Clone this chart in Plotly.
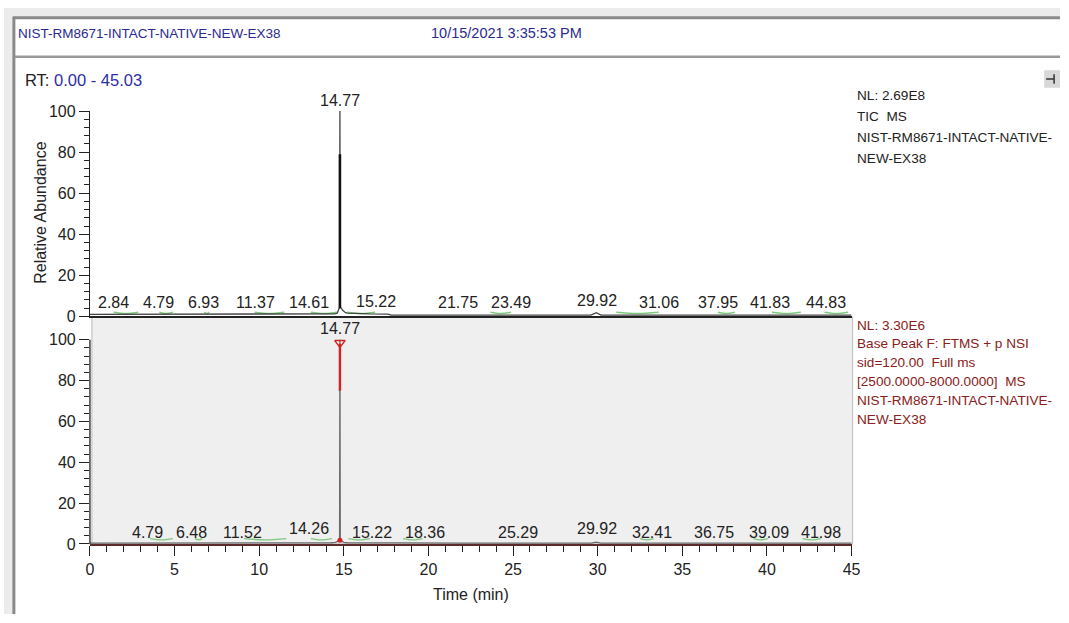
import plotly.graph_objects as go

# ---------------- data ----------------
tic_time = [0.0, 1.5, 2.84, 4.0, 4.79, 6.0, 6.93, 9.0, 11.37, 13.0, 14.45, 14.61, 14.70, 14.75, 14.77,
            14.79, 14.84, 14.95, 15.10, 15.22, 16.5, 17.6, 17.8, 21.75, 23.49, 29.6, 29.92, 30.2, 31.06,
            37.95, 41.83, 44.83, 45.0]
tic_abund = [1.0, 1.0, 1.2, 1.0, 1.1, 1.0, 1.1, 1.0, 1.1, 1.0, 1.2, 1.5, 3.5, 4.5, 100.0,
             4.5, 4.0, 2.8, 1.8, 1.6, 1.2, 1.1, 0.6, 0.6, 0.6, 0.6, 1.8, 0.6, 0.6,
             0.6, 0.6, 0.6, 0.6]

bp_time = [0.0, 3.0, 4.79, 6.48, 9.0, 11.52, 13.5, 14.26, 14.5, 14.70, 14.75, 14.77, 14.79, 14.84,
           15.0, 15.22, 16.0, 18.36, 22.0, 25.29, 29.6, 29.92, 30.2, 32.41, 36.75, 39.09, 41.98, 45.0]
bp_abund = [0.4, 0.4, 0.5, 0.5, 0.4, 0.5, 0.4, 0.6, 0.8, 1.5, 2.5, 100.0, 2.5, 1.5,
            0.8, 0.6, 0.5, 0.5, 0.4, 0.4, 0.4, 0.9, 0.4, 0.4, 0.4, 0.4, 0.4, 0.4]

apex_time = 14.77
tic_dark_segment = [4.0, 79.0]
bp_red_segment = [75.0, 98.0]

tic_labels = ["2.84", "4.79", "6.93", "11.37", "14.61", "15.22", "21.75", "23.49", "29.92",
              "31.06", "37.95", "41.83", "44.83"]
tic_label_pos = [1.40, 4.08, 6.70, 9.79, 12.94, 16.9, 21.74, 24.9, 29.95, 33.6, 37.1, 40.2, 43.5]
tic_label_lvl = [6.6, 6.6, 6.6, 6.6, 6.6, 7.4, 6.6, 6.6, 7.6, 6.6, 6.6, 6.6, 6.6]

bp_labels = ["4.79", "6.48", "11.52", "14.26", "15.22", "18.36", "25.29", "29.92", "32.41",
             "36.75", "39.09", "41.98"]
bp_label_pos = [3.38, 6.0, 9.03, 12.94, 16.67, 19.8, 25.3, 29.95, 33.2, 36.9, 40.1, 43.2]
bp_label_lvl = [5.7, 5.7, 5.7, 7.6, 5.7, 5.7, 5.7, 7.6, 5.7, 5.7, 5.7, 5.7]

tic_peak_bounds = [(1.40, 2.86), (4.1, 4.9), (6.76, 7.05), (9.73, 11.48), (13.05, 14.63),
                   (15.2, 16.85), (23.66, 24.88), (31.1, 33.6), (37.1, 38.1), (40.3, 42.0),
                   (43.4, 44.8)]
bp_peak_bounds = [(3.55, 4.9), (6.2, 6.64), (9.1, 11.6), (13.05, 14.3), (15.27, 16.55),
                  (18.5, 19.65), (32.5, 33.3), (39.2, 40.05), (42.1, 43.2)]

x_ticks = [0, 5, 10, 15, 20, 25, 30, 35, 40, 45]
y_ticks = [0, 20, 40, 60, 80, 100]

top_info = ["NL: 2.69E8", "TIC  MS", "NIST-RM8671-INTACT-NATIVE-", "NEW-EX38"]
bot_info = ["NL: 3.30E6", "Base Peak F: FTMS + p NSI", "sid=120.00  Full ms",
            "[2500.0000-8000.0000]  MS", "NIST-RM8671-INTACT-NATIVE-", "NEW-EX38"]
header_name = "NIST-RM8671-INTACT-NATIVE-NEW-EX38"
header_date = "10/15/2021 3:35:53 PM"

# ---------------- layout helpers ----------------
W, H = 1069, 623
FONT = "Liberation Sans, Arial, sans-serif"


def px(x):
    return x / W


def py(y):
    return 1 - y / H


fig = go.Figure()

# green integration marks
def seg_xy(bounds, lvl):
    xs, ys = [], []
    for a, b in bounds:
        xs += [a, (a + b) / 2, b, None]
        ys += [lvl, lvl - 0.6, lvl, None]
    return xs, ys

gx, gy = seg_xy(tic_peak_bounds, 2.0)
fig.add_trace(go.Scatter(x=gx, y=gy, mode="lines", line=dict(color="#7ec87e", width=1.4, shape="spline"),
                         xaxis="x", yaxis="y", hoverinfo="skip", showlegend=False))
gx, gy = seg_xy(bp_peak_bounds, 2.6)
fig.add_trace(go.Scatter(x=gx, y=gy, mode="lines", line=dict(color="#7ec87e", width=1.4, shape="spline"),
                         xaxis="x2", yaxis="y2", hoverinfo="skip", showlegend=False))

# TIC trace
fig.add_trace(go.Scatter(x=tic_time, y=tic_abund, mode="lines", line=dict(color="#444444", width=1.3),
                         xaxis="x", yaxis="y", showlegend=False))
fig.add_trace(go.Scatter(x=[apex_time, apex_time], y=tic_dark_segment, mode="lines",
                         line=dict(color="#111111", width=2.6), xaxis="x", yaxis="y", showlegend=False))

# Base peak trace
fig.add_trace(go.Scatter(x=bp_time, y=bp_abund, mode="lines", line=dict(color="#6a6a6a", width=1.3),
                         xaxis="x2", yaxis="y2", showlegend=False))
fig.add_trace(go.Scatter(x=[apex_time, apex_time], y=bp_red_segment, mode="lines",
                         line=dict(color="#d42020", width=2.4), xaxis="x2", yaxis="y2", showlegend=False))
fig.add_trace(go.Scatter(x=[apex_time], y=[98.5], mode="markers",
                         marker=dict(symbol="triangle-down-open", color="#d42020", size=9, line=dict(width=1.5)),
                         xaxis="x2", yaxis="y2", showlegend=False, cliponaxis=False))
fig.add_trace(go.Scatter(x=[apex_time], y=[1.8], mode="markers",
                         marker=dict(symbol="circle", color="#d42020", size=5),
                         xaxis="x2", yaxis="y2", showlegend=False, cliponaxis=False))

x_dom = [px(87), px(858)]
axis_font = dict(family=FONT, size=16, color="#222222")

fig.update_layout(
    width=W, height=H, margin=dict(l=0, r=0, t=0, b=0),
    paper_bgcolor="white", plot_bgcolor="rgba(0,0,0,0)",
    showlegend=False,
    xaxis=dict(domain=x_dom, range=[0, 45], anchor="y", showticklabels=False, ticks="",
               showgrid=False, zeroline=False, showline=True, linecolor="#222222", linewidth=1.6),
    yaxis=dict(domain=[py(317), py(106)], range=[0, 100], anchor="x", tickvals=y_ticks,
               ticks="outside", ticklen=10, tickwidth=1.3, tickcolor="#222222",
               minor=dict(tickvals=list(range(0, 101, 4)), ticks="outside", ticklen=5, tickcolor="#222222",
                          showgrid=False),
               showgrid=False, zeroline=False, showline=True, linecolor="#222222", linewidth=1.3,
               tickfont=axis_font),
    xaxis2=dict(domain=x_dom, range=[0, 45], anchor="y2", tickvals=x_ticks,
                ticks="outside", ticklen=10, tickwidth=1.3, tickcolor="#222222",
                minor=dict(dtick=1, ticks="outside", ticklen=6, tickcolor="#222222", showgrid=False),
                showgrid=False, zeroline=False, showline=True, linecolor="#5b2a2a", linewidth=2,
                tickfont=axis_font),
    yaxis2=dict(domain=[py(551), py(318)], range=[0, 111], anchor="x2", tickvals=y_ticks,
                ticks="outside", ticklen=10, tickwidth=1.3, tickcolor="#222222",
                minor=dict(tickvals=list(range(0, 101, 4)), ticks="outside", ticklen=5, tickcolor="#222222",
                           showgrid=False),
                showgrid=False, zeroline=False, showline=False, tickfont=axis_font),
)

shapes = []
# window chrome
shapes.append(dict(type="rect", xref="paper", yref="paper", x0=0, x1=1, y0=py(9), y1=1,
                   fillcolor="#ececec", line=dict(width=0), layer="below"))
shapes.append(dict(type="rect", xref="paper", yref="paper", x0=0, x1=px(9), y0=0, y1=1,
                   fillcolor="#ececec", line=dict(width=0), layer="below"))
shapes.append(dict(type="line", xref="paper", yref="paper", x0=px(9), x1=1, y0=py(10), y1=py(10),
                   line=dict(color="#8a8a8a", width=3)))
shapes.append(dict(type="line", xref="paper", yref="paper", x0=px(10), x1=px(10), y0=0, y1=py(9),
                   line=dict(color="#8a8a8a", width=3)))
shapes.append(dict(type="line", xref="paper", yref="paper", x0=px(11), x1=1, y0=py(50), y1=py(50),
                   line=dict(color="#9a9a9a", width=2.5)))
# gray panel behind base peak plot
shapes.append(dict(type="rect", xref="paper", yref="paper", x0=px(89), x1=px(859), y0=py(551), y1=py(318),
                   fillcolor="#efefef", line=dict(color="#c4c4c4", width=1.2), layer="below"))
# left axis line of bottom plot (0..100)
shapes.append(dict(type="line", xref="x2 domain", yref="y2", x0=0, x1=0, y0=0, y1=100,
                   line=dict(color="#222222", width=1.3)))
# small toolbar icon top-right
shapes.append(dict(type="rect", xref="paper", yref="paper", x0=px(1053), x1=1, y0=py(82), y1=py(64),
                   fillcolor="#d8d8d8", line=dict(width=0)))
shapes.append(dict(type="line", xref="paper", yref="paper", x0=px(1055), x1=px(1063), y0=py(73), y1=py(73),
                   line=dict(color="#333333", width=1.5)))
shapes.append(dict(type="line", xref="paper", yref="paper", x0=px(1063), x1=px(1063), y0=py(78), y1=py(68),
                   line=dict(color="#333333", width=1.5)))
fig.update_layout(shapes=shapes)

ann = []
lab_font = dict(family=FONT, size=16, color="#222222")
for t, xp_, lv in zip(tic_labels, tic_label_pos, tic_label_lvl):
    ann.append(dict(x=xp_, y=lv, xref="x", yref="y", text=t, showarrow=False, font=lab_font,
                    xanchor="center", yanchor="middle"))
for t, xp_, lv in zip(bp_labels, bp_label_pos, bp_label_lvl):
    ann.append(dict(x=xp_, y=lv, xref="x2", yref="y2", text=t, showarrow=False, font=lab_font,
                    xanchor="center", yanchor="middle"))
ann.append(dict(x=apex_time, y=100, xref="x", yref="y", text="14.77", showarrow=False, font=lab_font,
                xanchor="center", yanchor="bottom", yshift=0))
ann.append(dict(x=apex_time, y=105.5, xref="x2", yref="y2", text="14.77", showarrow=False, font=lab_font,
                xanchor="center", yanchor="middle"))

# right info blocks
for i, line in enumerate(top_info):
    ann.append(dict(x=px(861), y=py(90 + 21.5 * i), xref="paper", yref="paper", text=line, showarrow=False,
                    font=dict(family=FONT, size=13.6, color="#222222"), xanchor="left", yanchor="middle"))
for i, line in enumerate(bot_info):
    ann.append(dict(x=px(861), y=py(326 + 19.4 * i), xref="paper", yref="paper", text=line, showarrow=False,
                    font=dict(family=FONT, size=13.6, color="#8a2020"), xanchor="left", yanchor="middle"))

# header
ann.append(dict(x=px(12), y=py(26), xref="paper", yref="paper", text=header_name, showarrow=False,
                font=dict(family=FONT, size=13.5, color="#2a2a90"), xanchor="left", yanchor="middle"))
ann.append(dict(x=px(430), y=py(26), xref="paper", yref="paper", text=header_date, showarrow=False,
                font=dict(family=FONT, size=14.5, color="#2a2a90"), xanchor="left", yanchor="middle"))
ann.append(dict(x=px(19), y=py(74), xref="paper", yref="paper",
                text="RT: <span style='color:#2e2ea8'>0.00 - 45.03</span>", showarrow=False,
                font=dict(family=FONT, size=16.5, color="#222222"), xanchor="left", yanchor="middle"))

# axis titles
ann.append(dict(x=px(37), y=py(211), xref="paper", yref="paper", text="Relative Abundance", showarrow=False,
                textangle=-90, font=dict(family=FONT, size=16, color="#222222"),
                xanchor="center", yanchor="middle"))
ann.append(dict(x=px(473), y=py(603), xref="paper", yref="paper", text="Time (min)", showarrow=False,
                font=dict(family=FONT, size=16, color="#222222"), xanchor="center", yanchor="middle"))

fig.update_layout(annotations=ann)

fig.write_html("out.html", config={"displayModeBar": False},
               post_script="document.body.style.margin='0';document.body.style.overflow='hidden';")
